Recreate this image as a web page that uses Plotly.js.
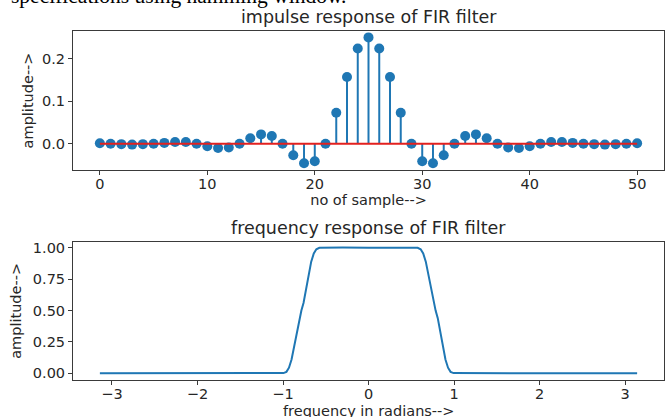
<!DOCTYPE html>
<html>
<head>
<meta charset="utf-8">
<script src="https://cdn.plot.ly/plotly-3.0.1.min.js"></script>
<style>html,body{margin:0;padding:0;background:#fff;}#plot{width:672px;height:417px;}</style>
</head>
<body>
<div id="plot"></div>
<script>
// ---- data ----
const sampleIndex = [0,1,2,3,4,5,6,7,8,9,10,11,12,13,14,15,16,17,18,19,20,21,22,23,24,25,
  26,27,28,29,30,31,32,33,34,35,36,37,38,39,40,41,42,43,44,45,46,47,48,49,50];
const impulse = [0.001,0.000,-0.001,-0.002,-0.001,0.000,0.002,0.004,0.004,0.000,
  -0.006,-0.010,-0.009,0.000,0.013,0.022,0.018,0.000,-0.027,-0.046,
  -0.041,0.000,0.073,0.157,0.224,0.250,0.224,0.157,0.073,0.000,
  -0.041,-0.046,-0.027,0.000,0.018,0.022,0.013,0.000,-0.009,-0.010,
  -0.006,0.000,0.004,0.004,0.002,0.000,-0.001,-0.002,-0.001,0.000,0.001];
const freq = [-3.1416,-2.5,-2.0,-1.5,-1.2,-0.995,-0.96,-0.93,-0.90,-0.87,-0.84,-0.81,-0.785,-0.76,-0.73,-0.70,-0.67,-0.64,-0.61,-0.575,-0.5,-0.3,0,
  0.3,0.5,0.575,0.61,0.64,0.67,0.70,0.73,0.76,0.785,0.81,0.84,0.87,0.90,0.93,0.96,0.995,1.2,1.5,2.0,2.5,3.1416];
const magnitude = [0.001,0.001,0.001,0.001,0.001,0.002,0.012,0.045,0.11,0.21,0.33,0.44,0.50,0.56,0.67,0.79,0.89,0.955,0.988,1.0,1.002,1.002,1.001,
  1.002,1.002,1.0,0.988,0.955,0.89,0.79,0.67,0.56,0.50,0.44,0.33,0.21,0.11,0.045,0.012,0.002,0.001,0.001,0.001,0.001,0.001];
const xTicksTop = [0,10,20,30,40,50];
const yTicksTop = [0.0,0.1,0.2];
const xTicksBottom = [-3,-2,-1,0,1,2,3];
const yTicksBottom = [0.00,0.25,0.50,0.75,1.00];

// ---- build stem segments from the data ----
const stemX = [], stemY = [];
sampleIndex.forEach((n,i)=>{ stemX.push(n,n,null); stemY.push(0,impulse[i],null); });

const blue = '#1f77b4';
const txt = '#262626';
const axc = '#3a3a3a';
const fnt = 'DejaVu Sans, sans-serif';

const traces = [
  {x: stemX, y: stemY, mode:'lines', line:{color:blue, width:2}, xaxis:'x', yaxis:'y', hoverinfo:'skip'},
  {x: sampleIndex, y: impulse, mode:'markers', marker:{color:blue, size:10}, xaxis:'x', yaxis:'y'},
  {x: [sampleIndex[0], sampleIndex[sampleIndex.length-1]], y:[0,0], mode:'lines', line:{color:'#e3211f', width:2}, xaxis:'x', yaxis:'y'},
  {x: freq, y: magnitude, mode:'lines', line:{color:blue, width:2}, xaxis:'x2', yaxis:'y2'}
];

const axBase = {showline:true, mirror:true, linecolor:axc, linewidth:1, ticks:'outside', ticklen:4, tickwidth:1, tickcolor:axc,
  showgrid:false, zeroline:false, tickfont:{family:fnt, size:14.5, color:txt}};

const layout = {
  width:672, height:417,
  margin:{l:73, r:8, t:31, b:37},
  paper_bgcolor:'#fff', plot_bgcolor:'#fff',
  showlegend:false,
  font:{family:fnt, color:txt},
  xaxis: Object.assign({}, axBase, {domain:[0,1], anchor:'y', range:[-2.5,52.5], tickvals:xTicksTop, ticklabelstandoff:-3,
    title:{text:'no of sample-->', font:{family:fnt, size:14.5, color:txt}, standoff:3}}),
  yaxis: Object.assign({}, axBase, {domain:[0.602,1], anchor:'x', range:[-0.0615,0.265], tickvals:yTicksTop, tickformat:'.1f',
    title:{text:'amplitude-->', font:{family:fnt, size:14.5, color:txt}, standoff:4}}),
  xaxis2: Object.assign({}, axBase, {domain:[0,1], anchor:'y2', range:[-3.456,3.456], tickvals:xTicksBottom, ticklabelstandoff:-3}),
  yaxis2: Object.assign({}, axBase, {domain:[0,0.396], anchor:'x2', range:[-0.053,1.048], tickvals:yTicksBottom, tickformat:'.2f',
    title:{text:'amplitude-->', font:{family:fnt, size:14.5, color:txt}, standoff:7}}),
  annotations:[
    {text:'impulse response of FIR filter', xref:'paper', yref:'paper', x:0.5, y:1, xanchor:'center', yanchor:'bottom', yshift:2,
      showarrow:false, font:{family:fnt, size:17.5, color:txt}},
    {text:'frequency response of FIR filter', xref:'paper', yref:'paper', x:0.5, y:0.396, xanchor:'center', yanchor:'bottom', yshift:2,
      showarrow:false, font:{family:fnt, size:17.5, color:txt}},
    {text:'frequency in radians-->', xref:'paper', yref:'paper', x:0.5, y:(380-411)/349, xanchor:'center', yanchor:'middle',
      showarrow:false, font:{family:fnt, size:14.5, color:txt}},
    {text:'specifications using hamming window.', xref:'paper', yref:'paper', x:(9-73)/591, y:(380-10.5)/349, xanchor:'left', yanchor:'bottom',
      showarrow:false, font:{family:'Liberation Serif, Times New Roman, serif', size:21.5, color:'#000'}}
  ]
};

Plotly.newPlot('plot', traces, layout, {displayModeBar:false, staticPlot:true});
</script>
</body>
</html>
